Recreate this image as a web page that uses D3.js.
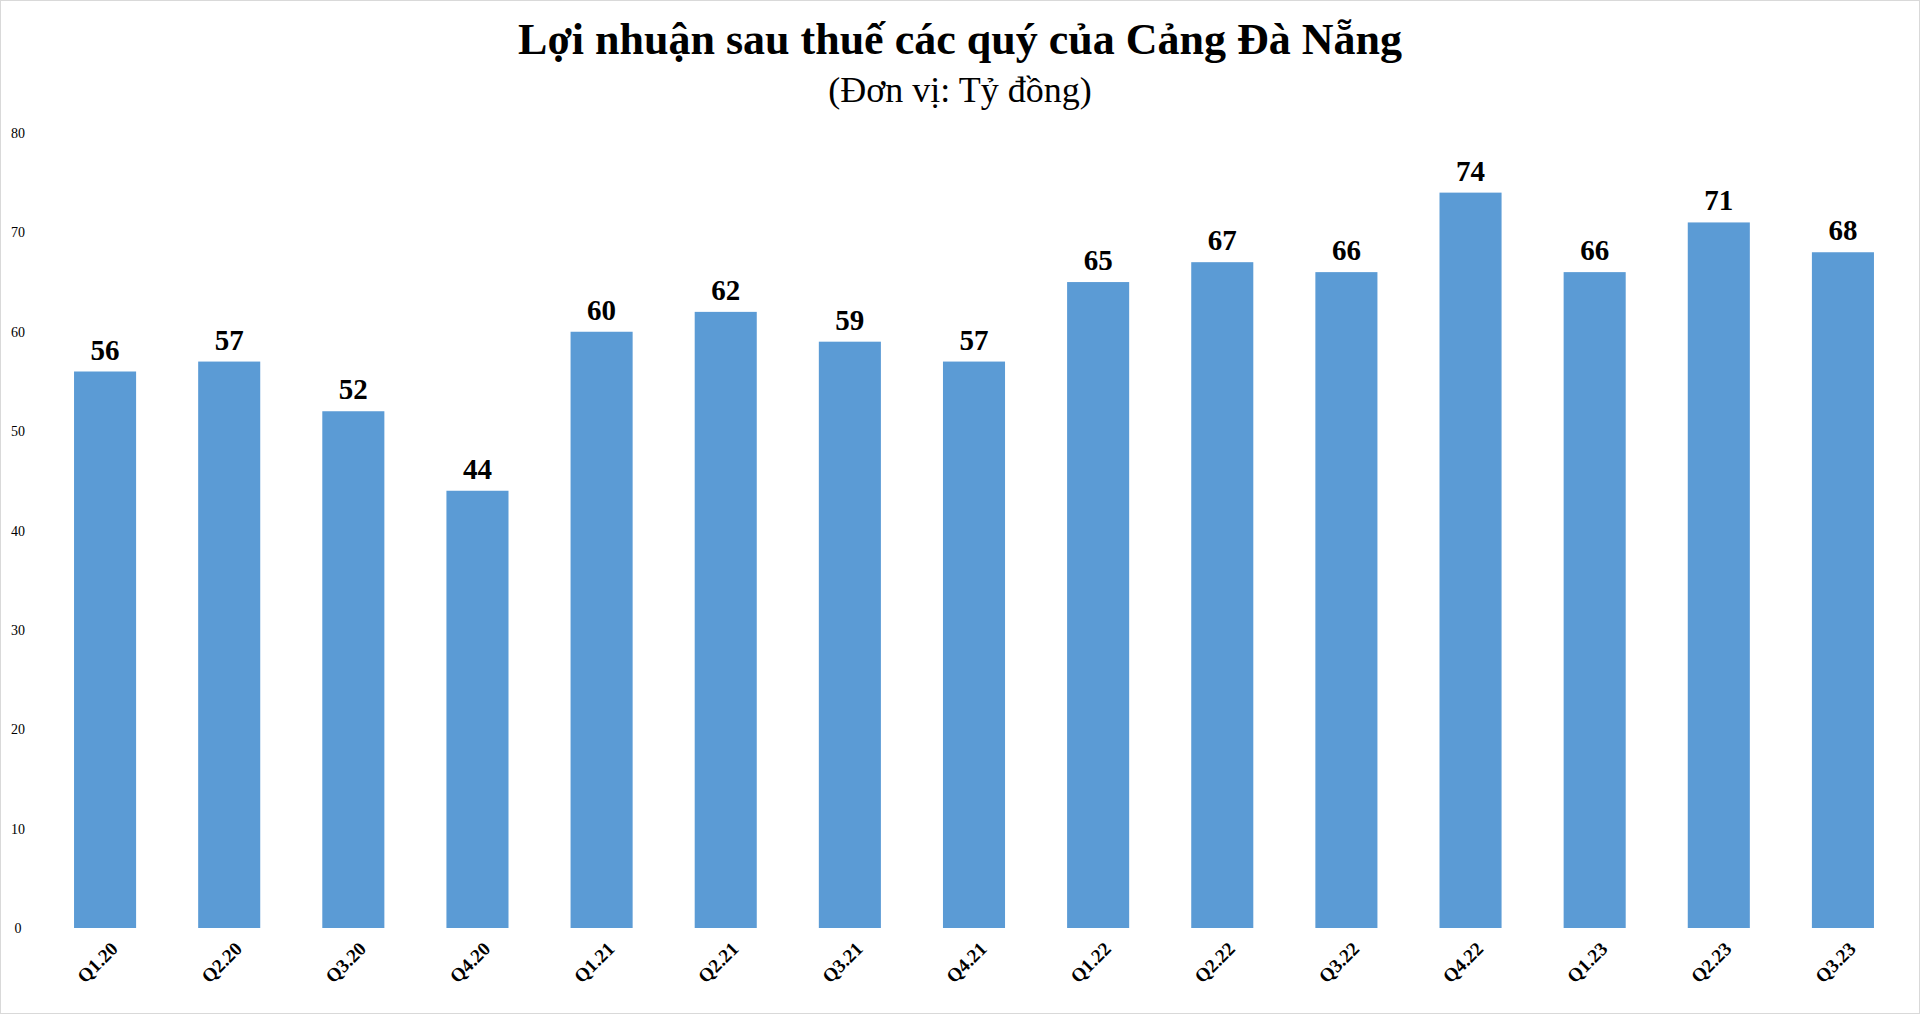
<!DOCTYPE html><html><head><meta charset="utf-8"><script src="https://cdn.jsdelivr.net/npm/d3@7"></script>
<style>body{margin:0;background:#fff}svg{display:block}</style></head><body><svg id="c" width="1920" height="1014"></svg>
<script>
const categories=["Q1.20","Q2.20","Q3.20","Q4.20","Q1.21","Q2.21","Q3.21","Q4.21","Q1.22","Q2.22","Q3.22","Q4.22","Q1.23","Q2.23","Q3.23"];
const values=[56,57,52,44,60,62,59,57,65,67,66,74,66,71,68];
const ticks=[0,10,20,30,40,50,60,70,80];
const svg=d3.select("#c");
svg.append("rect").attr("x",0.5).attr("y",0.5).attr("width",1919).attr("height",1013).attr("fill","none").attr("stroke","#d9d9d9");
const x=d3.scaleBand().domain(categories).range([43,1905]).paddingInner(0.5).paddingOuter(0.25);
const y=d3.scaleLinear().domain([0,80]).range([928,133]);
const f="'Liberation Serif','Times New Roman',serif";
svg.append("text").attr("x",960).attr("y",54).attr("text-anchor","middle").attr("font-family",f).attr("font-weight","bold").attr("font-size",44).text("Lợi nhuận sau thuế các quý của Cảng Đà Nẵng");
svg.append("text").attr("x",960).attr("y",102).attr("text-anchor","middle").attr("font-family",f).attr("font-size",36).text("(Đơn vị: Tỷ đồng)");
svg.selectAll(".yt").data(ticks).join("text").attr("x",18).attr("y",d=>y(d)+5).attr("text-anchor","middle").attr("font-family",f).attr("font-size",14).text(d=>d);
svg.selectAll(".bar").data(values).join("rect").attr("x",(d,i)=>x(categories[i])).attr("width",x.bandwidth()).attr("y",d=>y(d)).attr("height",d=>y(0)-y(d)).attr("fill","#5b9bd5");
svg.selectAll(".vl").data(values).join("text").attr("x",(d,i)=>x(categories[i])+x.bandwidth()/2).attr("y",d=>y(d)-12).attr("text-anchor","middle").attr("font-family",f).attr("font-weight","bold").attr("font-size",29).text(d=>d);
svg.selectAll(".xl").data(categories).join("text").attr("transform",d=>`translate(${x(d)+x.bandwidth()/2+14},${950}) rotate(-45)`).attr("text-anchor","end").attr("font-family",f).attr("font-weight","bold").attr("font-size",19).text(d=>d);
</script></body></html>
